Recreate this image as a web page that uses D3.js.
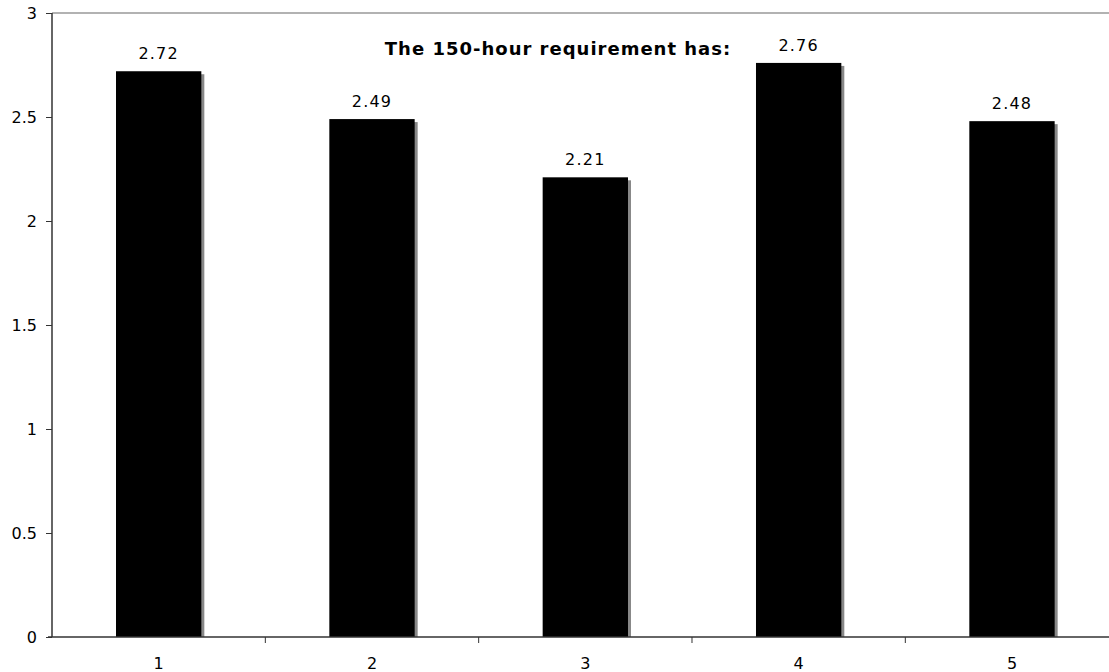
<!DOCTYPE html>
<html>
<head>
	<title>The 150-hour requirement has:</title>
	<meta charset="utf-8" />
	<style>
		html, body { margin: 0; background: #fff; }
		#chart { width: 1109px; height: 672px; }
		text { font-family: Verdana, "DejaVu Sans", sans-serif; fill: #000; }
	</style>
	<script src="https://cdnjs.cloudflare.com/ajax/libs/d3/7.8.5/d3.min.js"></script>
</head>
<body>
<div id="chart"></div>
<script>
	var categories = ["1", "2", "3", "4", "5"];
	var values = [2.72, 2.49, 2.21, 2.76, 2.48];
	var yTicks = [0, 0.5, 1, 1.5, 2, 2.5, 3];
	var title = "The 150-hour requirement has:";

	var width = 1109, height = 672;
	var plotLeft = 52, plotTop = 13, plotBottom = 637;
	var band = 213.33;
	var font = "Verdana, 'DejaVu Sans', sans-serif";

	var svg = d3.select("#chart").append("svg")
		.attr("width", width).attr("height", height);

	var x = d3.scaleBand().domain(categories)
		.range([plotLeft, plotLeft + band * categories.length])
		.paddingInner(0.6).paddingOuter(0.3);
	var y = d3.scaleLinear().domain([0, 3]).range([plotBottom, plotTop]);

	// top border line of plot area
	svg.append("line")
		.attr("x1", plotLeft).attr("x2", width)
		.attr("y1", y(3)).attr("y2", y(3))
		.attr("stroke", "#999").attr("stroke-width", 1.5);

	// shadows
	svg.selectAll("rect.shadow").data(values).enter()
		.append("rect").attr("class", "shadow")
		.attr("x", function(d, i){ return x(categories[i]) + 3; })
		.attr("y", function(d){ return y(d) + 3; })
		.attr("width", x.bandwidth())
		.attr("height", function(d){ return plotBottom - y(d) - 3; })
		.attr("fill", "#888");

	svg.selectAll("rect.bar").data(values).enter()
		.append("rect").attr("class", "bar")
		.attr("x", function(d, i){ return x(categories[i]); })
		.attr("y", function(d){ return y(d); })
		.attr("width", x.bandwidth())
		.attr("height", function(d){ return plotBottom - y(d); })
		.attr("fill", "#000");

	svg.selectAll("text.val").data(values).enter()
		.append("text").attr("class", "val")
		.attr("x", function(d, i){ return x(categories[i]) + x.bandwidth() / 2; })
		.attr("y", function(d){ return y(d) - 12; })
		.attr("text-anchor", "middle")
		.attr("font-size", "16px")
		.attr("letter-spacing", "1.2px")
		.text(function(d){ return d.toFixed(2); });

	// y axis
	var yAxis = d3.axisLeft(y).tickValues(yTicks).tickSize(6).tickPadding(9)
		.tickFormat(function(d){ return String(d); });
	var gy = svg.append("g").attr("transform", "translate(" + plotLeft + ",0)").call(yAxis);
	gy.select(".domain").attr("stroke", "#333").attr("stroke-width", 1.5).attr("d", "M0," + plotTop + "V" + plotBottom);
	gy.selectAll(".tick line").attr("stroke", "#333");
	gy.selectAll("text").attr("font-size", "16px").attr("font-family", font).attr("fill", "#000");

	// x axis
	var gx = svg.append("g").attr("transform", "translate(0," + plotBottom + ")");
	gx.append("line").attr("x1", plotLeft - 4).attr("x2", width)
		.attr("stroke", "#333").attr("stroke-width", 1.5);
	gx.selectAll("line.tick").data(d3.range(1, categories.length)).enter()
		.append("line").attr("class", "tick")
		.attr("x1", function(i){ return plotLeft + band * i; })
		.attr("x2", function(i){ return plotLeft + band * i; })
		.attr("y1", 0).attr("y2", 6)
		.attr("stroke", "#333");
	gx.selectAll("text").data(categories).enter()
		.append("text")
		.attr("x", function(d){ return x(d) + x.bandwidth() / 2; })
		.attr("y", 32)
		.attr("text-anchor", "middle")
		.attr("font-size", "16px")
		.text(function(d){ return d; });

	svg.append("text")
		.attr("x", 558).attr("y", 55)
		.attr("text-anchor", "middle")
		.attr("font-size", "18px").attr("font-weight", "bold")
		.attr("letter-spacing", "1px")
		.text(title);
</script>
</body>
</html>
